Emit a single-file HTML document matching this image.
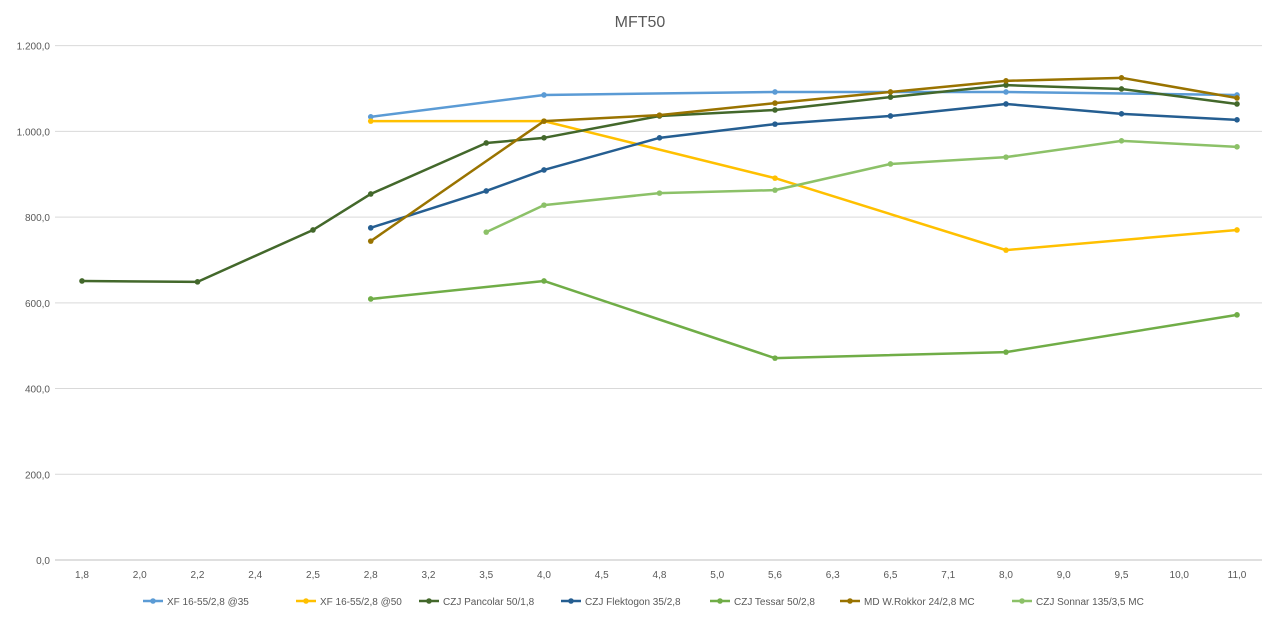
<!DOCTYPE html>
<html><head><meta charset="utf-8"><style>
body{margin:0;background:#fff;}
svg{display:block;font-family:"Liberation Sans",Arial,sans-serif;}
</style></head><body>
<svg id="c" width="1280" height="619" viewBox="0 0 1280 619" xmlns="http://www.w3.org/2000/svg">
<rect width="1280" height="619" fill="#fff"/>
<text x="640" y="27" text-anchor="middle" font-size="16" fill="#595959">MFT50</text>
<g id="grid"></g><g id="series"></g><g id="legend"></g>
</svg>
<script>
const NS="http://www.w3.org/2000/svg";
function el(t,a,p,txt){const e=document.createElementNS(NS,t);for(const k in a)e.setAttribute(k,a[k]);if(txt!==undefined)e.textContent=txt;p.appendChild(e);return e;}
const cats=["1,8","2,0","2,2","2,4","2,5","2,8","3,2","3,5","4,0","4,5","4,8","5,0","5,6","6,3","6,5","7,1","8,0","9,0","9,5","10,0","11,0"];
const X=i=>82+57.75*i, Y=v=>560-v*0.4286;
const g=document.getElementById("grid");
for(let v=0;v<=1200;v+=200){const y=Y(v);
 el("line",{x1:55,x2:1262,y1:y,y2:y,stroke:v?"#d9d9d9":"#bfbfbf","stroke-width":1},g);
 el("text",{x:50,y:y+4,"text-anchor":"end","font-size":10,fill:"#595959"},g,(v?(v>=1000?"1."+String(v-1000).padStart(3,"0"):v):"0")+",0");}
cats.forEach((c,i)=>el("text",{x:X(i),y:578,"text-anchor":"middle","font-size":10,fill:"#595959"},g,c));
const idx=c=>cats.indexOf(c);
const S=[
["XF 16-55/2,8 @35","#5B9BD5",[["2,8",1034],["4,0",1085],["5,6",1092],["8,0",1092],["11,0",1085]]],
["XF 16-55/2,8 @50","#FFC000",[["2,8",1024],["4,0",1024],["5,6",891],["8,0",723],["11,0",770]]],
["CZJ Pancolar 50/1,8","#43682B",[["1,8",651],["2,2",649],["2,5",770],["2,8",854],["3,5",973],["4,0",985],["4,8",1036],["5,6",1050],["6,5",1080],["8,0",1108],["9,5",1099],["11,0",1064]]],
["CZJ Flektogon 35/2,8","#255E91",[["2,8",775],["3,5",861],["4,0",910],["4,8",985],["5,6",1017],["6,5",1036],["8,0",1064],["9,5",1041],["11,0",1027]]],
["CZJ Tessar 50/2,8","#70AD47",[["2,8",609],["4,0",651],["5,6",471],["8,0",485],["11,0",572]]],
["MD W.Rokkor 24/2,8 MC","#997300",[["2,8",744],["4,0",1024],["4,8",1038],["5,6",1066],["6,5",1092],["8,0",1118],["9,5",1125],["11,0",1078]]],
["CZJ Sonnar 135/3,5 MC","#8CC168",[["3,5",765],["4,0",828],["4,8",856],["5,6",863],["6,5",924],["8,0",940],["9,5",978],["11,0",964]]]];
const sg=document.getElementById("series");
S.forEach(([n,c,d])=>{
 el("polyline",{points:d.map(([k,v])=>X(idx(k))+","+Y(v)).join(" "),fill:"none",stroke:c,"stroke-width":2.5,"stroke-linejoin":"round"},sg);
 d.forEach(([k,v])=>el("circle",{cx:X(idx(k)),cy:Y(v),r:2.8,fill:c},sg));});
const lg=document.getElementById("legend");
const lx=[143,296,419,561,710,840,1012];
S.forEach(([n,c],i)=>{const x=lx[i];
 el("line",{x1:x,x2:x+20,y1:601,y2:601,stroke:c,"stroke-width":2.5},lg);
 el("circle",{cx:x+10,cy:601,r:2.8,fill:c},lg);
 el("text",{x:x+24,y:605,"font-size":10,fill:"#595959"},lg,n);});
</script>
</body></html>
